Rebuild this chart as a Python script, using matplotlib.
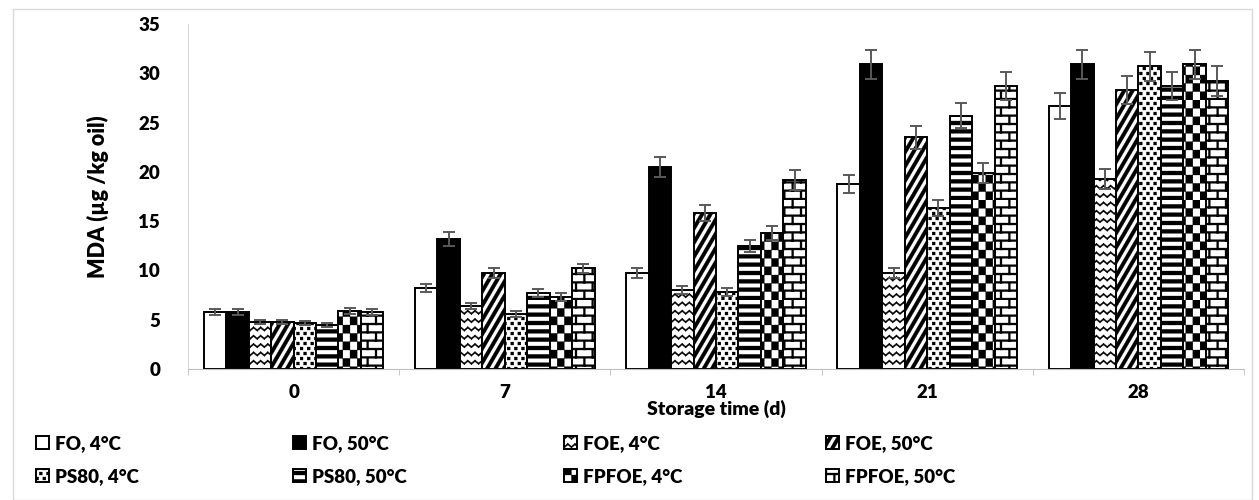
import warnings
import numpy as np
import matplotlib
matplotlib.use("Agg")
import matplotlib.pyplot as plt
import matplotlib.hatch as mhatch
from matplotlib.path import Path
from matplotlib.patches import Rectangle

warnings.filterwarnings("ignore")

days = ["0", "7", "14", "21", "28"]
series = ["FO, 4°C", "FO, 50°C", "FOE, 4°C", "FOE, 50°C",
          "PS80, 4°C", "PS80, 50°C", "FPFOE, 4°C", "FPFOE, 50°C"]

fo_4 = [5.8, 8.2, 9.7, 18.8, 26.7]
fo_50 = [5.8, 13.2, 20.5, 30.9, 30.9]
foe_4 = [4.8, 6.4, 8.0, 9.7, 19.3]
foe_50 = [4.8, 9.7, 15.8, 23.5, 28.3]
ps80_4 = [4.7, 5.6, 7.8, 16.3, 30.7]
ps80_50 = [4.5, 7.7, 12.5, 25.7, 28.7]
fpfoe_4 = [5.9, 7.3, 13.8, 19.9, 30.9]
fpfoe_50 = [5.8, 10.2, 19.2, 28.7, 29.2]

fo_4_err = [0.3, 0.4, 0.5, 0.9, 1.3]
fo_50_err = [0.3, 0.7, 1.0, 1.5, 1.5]
foe_4_err = [0.2, 0.3, 0.4, 0.5, 1.0]
foe_50_err = [0.2, 0.5, 0.8, 1.2, 1.4]
ps80_4_err = [0.2, 0.3, 0.4, 0.8, 1.5]
ps80_50_err = [0.2, 0.4, 0.6, 1.3, 1.4]
fpfoe_4_err = [0.3, 0.4, 0.7, 1.0, 1.5]
fpfoe_50_err = [0.3, 0.5, 1.0, 1.4, 1.5]

values = [fo_4, fo_50, foe_4, foe_50, ps80_4, ps80_50, fpfoe_4, fpfoe_50]
errors = [fo_4_err, fo_50_err, foe_4_err, foe_50_err,
          ps80_4_err, ps80_50_err, fpfoe_4_err, fpfoe_50_err]


# --- custom Excel-like fill patterns, built as filled polygons in the hatch tile
def _rect(x0, y0, x1, y1):
    return [(x0, y0), (x1, y0), (x1, y1), (x0, y1)]


def _seg(x1, y1, x2, y2, t):
    return [(x1, y1), (x2, y2), (x2, y2 + t), (x1, y1 + t)]


def horizontal_polys():
    return [_rect(0, i / 12, 1, i / 12 + 0.04) for i in range(12)]


def diagonal_polys():
    s, w = 7 / 12, 0.042
    return [[(k / 12, 0), (k / 12 + w, 0), (k / 12 + w + s, 1), (k / 12 + s, 1)]
            for k in range(-12, 13)]


def zigzag_polys():
    polys = []
    for r in range(12):
        y = r / 12 + 0.02
        for c in range(14):
            x = c / 14
            polys.append(_seg(x, y, x + 1 / 28, y + 0.03, 0.018))
            polys.append(_seg(x + 1 / 28, y + 0.03, x + 1 / 14, y, 0.018))
    return polys


def dots_polys():
    polys = []
    for r in range(20):
        off = (r % 2) / 28
        for c in range(14):
            x = c / 14 + off
            polys.append(_rect(x, r / 20, x + 0.03, r / 20 + 0.03))
    return polys


def checker_polys():
    return [_rect(i / 14, j / 12, (i + 1) / 14, (j + 1) / 12)
            for i in range(14) for j in range(12) if (i + j) % 2 == 0]


def brick_polys():
    polys = []
    for r in range(12):
        y = r / 12
        polys.append(_rect(0, y, 1, y + 0.02))
        off = (r % 2) / 12
        for c in range(7):
            x = c / 6 + off
            polys.append(_rect(x, y, x + 0.02, y + 1 / 12))
    return polys


class PolyHatch(mhatch.HatchPatternBase):
    char = None
    maker = None

    def __init__(self, hatch, density):
        self.polys = type(self).maker() if (hatch and self.char in hatch) else []
        self.num_vertices = sum(len(p) + 1 for p in self.polys)

    def set_vertices_and_codes(self, vertices, codes):
        i = 0
        for p in self.polys:
            n = len(p)
            vertices[i:i + n] = p
            vertices[i + n] = p[0]
            codes[i] = Path.MOVETO
            codes[i + 1:i + n] = Path.LINETO
            codes[i + n] = Path.CLOSEPOLY
            i += n + 1


for ch, fn in [("h", horizontal_polys), ("d", diagonal_polys), ("z", zigzag_polys),
               ("q", dots_polys), ("k", checker_polys), ("b", brick_polys)]:
    mhatch._hatch_types.append(type("Hatch_" + ch, (PolyHatch,), {"char": ch, "maker": staticmethod(fn)}))

plt.rcParams["hatch.linewidth"] = 0.2
plt.rcParams["font.family"] = ["Lato", "DejaVu Sans"]
plt.rcParams["font.weight"] = "heavy"
plt.rcParams["axes.labelweight"] = "heavy"

styles = [("white", None), ("black", None), ("white", "z"), ("white", "d"),
          ("white", "q"), ("white", "h"), ("white", "k"), ("white", "b")]

fig = plt.figure(figsize=(12.59, 5), dpi=100)
fig.patches.append(Rectangle((13 / 1259, 0.0), 1239 / 1259, 491 / 500, transform=fig.transFigure,
                             fill=False, edgecolor="#d9d9d9", linewidth=1))
ax = fig.add_axes([188 / 1259, 131 / 500, 1056 / 1259, 345 / 500])

x = np.arange(len(days))
width = 0.85 / len(series)
handles = []
for i, (vals, errs) in enumerate(zip(values, errors)):
    fc, hatch = styles[i]
    pos = x - 0.425 + width * (i + 0.5)
    b = ax.bar(pos, vals, width, color=fc, edgecolor="black", linewidth=1.4,
               hatch=hatch, label=series[i], zorder=2)
    ax.errorbar(pos, vals, yerr=errs, fmt="none", ecolor="#595959",
                elinewidth=1.4, capsize=4.2, capthick=1.4, zorder=3)
    handles.append(b)

ax.set_xlim(-0.5, len(days) - 0.5)
ax.set_ylim(0, 35)
ax.set_yticks(range(0, 36, 5))
ax.set_xticks(x)
ax.set_xticklabels(days)
ax.set_xticks(np.arange(-0.5, len(days)), minor=True)
ax.tick_params(axis="y", length=0, pad=20, labelsize=13.5)
ax.tick_params(axis="x", which="major", length=0, pad=11, labelsize=13.5)
ax.tick_params(axis="x", which="minor", length=4, color="#bfbfbf")
for s in ["top", "right"]:
    ax.spines[s].set_visible(False)
ax.spines["left"].set_color("#d9d9d9")
ax.spines["bottom"].set_color("#bfbfbf")
ax.set_xlabel("Storage time (d)", fontsize=14, labelpad=-1)
ax.set_ylabel("MDA (µg /kg oil)", fontsize=15.5, labelpad=21)

col_x = [36, 293, 564, 826]
for j in range(4):
    fig.legend([handles[j], handles[j + 4]], [series[j], series[j + 4]],
               loc="upper left", bbox_to_anchor=(col_x[j] / 1259, 1 - 435 / 500),
               frameon=False, fontsize=13.5, handlelength=0.7, handleheight=0.7,
               handletextpad=0.3, labelspacing=0.85, borderpad=0, borderaxespad=0)

fig.savefig("out.png", dpi=100)
